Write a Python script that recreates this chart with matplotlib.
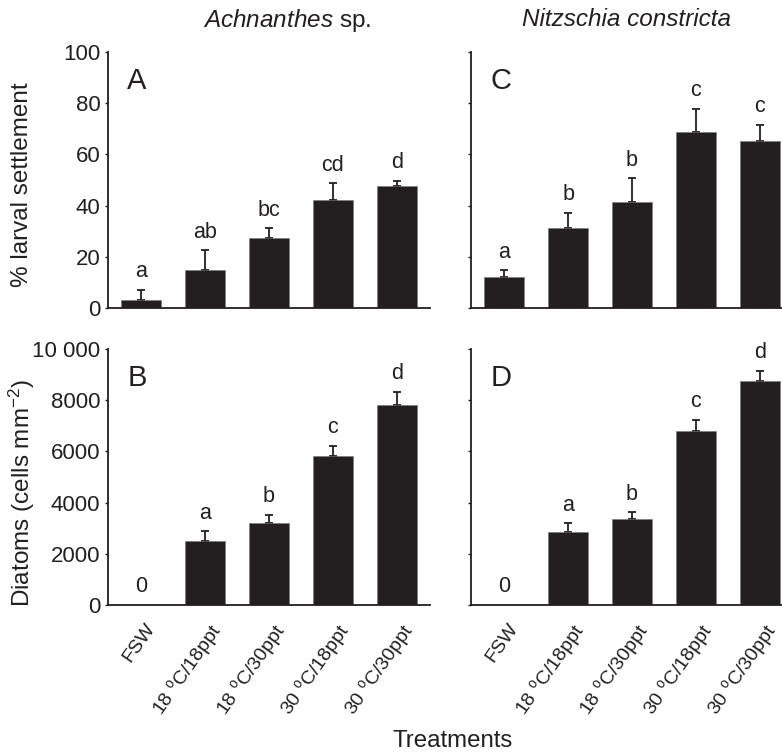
import numpy as np
import matplotlib
matplotlib.use("Agg")
import matplotlib.pyplot as plt
from matplotlib.transforms import ScaledTranslation

plt.rcParams['font.family'] = ['Liberation Sans', 'DejaVu Sans']
plt.rcParams['mathtext.fontset'] = 'custom'
plt.rcParams['mathtext.rm'] = 'Liberation Sans'
plt.rcParams['mathtext.it'] = 'Liberation Sans:italic'
plt.rcParams['mathtext.bf'] = 'Liberation Sans:bold'

INK = '#231f20'

# data
treatments = ['FSW', r'18 $^{\rm o}$C/18ppt', r'18 $^{\rm o}$C/30ppt',
              r'30 $^{\rm o}$C/18ppt', r'30 $^{\rm o}$C/30ppt']

settle_ach = [3.3, 15.0, 27.2, 42.2, 47.5]
settle_ach_se = [3.9, 7.6, 3.9, 6.6, 2.2]
settle_ach_sig = ['a', 'ab', 'bc', 'cd', 'd']

settle_nit = [12.2, 31.4, 41.4, 68.6, 65.3]
settle_nit_se = [2.5, 5.9, 9.3, 9.2, 6.3]
settle_nit_sig = ['a', 'b', 'b', 'c', 'c']

diat_ach = [0, 2500, 3190, 5810, 7800]
diat_ach_se = [0, 380, 340, 400, 520]
diat_ach_sig = ['0', 'a', 'b', 'c', 'd']

diat_nit = [0, 2870, 3350, 6800, 8750]
diat_nit_se = [0, 320, 270, 430, 400]
diat_nit_sig = ['0', 'a', 'b', 'c', 'd']

settle_ticks = [0, 20, 40, 60, 80, 100]
diat_ticks = [0, 2000, 4000, 6000, 8000, 10000]
diat_ticklabels = ['0', '2000', '4000', '6000', '8000', '10 000']

W, H = 782, 753
fig = plt.figure(figsize=(W / 100, H / 100), dpi=100)


def px_axes(left, bottom, width, height):
    return fig.add_axes([left / W, (H - bottom) / H, width / W, height / H])


axA = px_axes(108, 308, 322, 256)
axB = px_axes(108, 605, 322, 256)
axC = px_axes(471, 308, 322, 256)
axD = px_axes(471, 605, 322, 256)

panels = [
    (axA, settle_ach, settle_ach_se, settle_ach_sig, 'A', 100, settle_ticks, None),
    (axC, settle_nit, settle_nit_se, settle_nit_sig, 'C', 100, settle_ticks, None),
    (axB, diat_ach, diat_ach_se, diat_ach_sig, 'B', 10000, diat_ticks, diat_ticklabels),
    (axD, diat_nit, diat_nit_se, diat_nit_sig, 'D', 10000, diat_ticks, diat_ticklabels),
]

x = np.arange(len(treatments))

for ax, vals, se, sig, tag, ymax, ticks, ticklabels in panels:
    vals = np.array(vals, dtype=float)
    se = np.array(se, dtype=float)
    ax.bar(x, vals, width=0.63, color=INK, edgecolor='#777777',
           linewidth=0.4, zorder=2)
    keep = vals > 0
    ax.errorbar(x[keep], vals[keep], yerr=[np.zeros(keep.sum()), se[keep]],
                fmt='none', ecolor=INK, elinewidth=1.3, capsize=3.2,
                capthick=1.3, zorder=1)
    for xi, top, s in zip(x, vals + se, sig):
        ax.annotate(s, (xi, top), xytext=(0, 13), textcoords='offset points',
                    ha='center', va='center', fontsize=15.5, color=INK)
    ax.text(0.06, 0.885, tag, transform=ax.transAxes, ha='left', va='center',
            fontsize=21, color=INK)

    ax.set_xlim(-0.52, 4.52)
    ax.set_ylim(0, ymax)
    ax.set_yticks(ticks)
    if ticklabels is not None:
        ax.set_yticklabels(ticklabels)
    for side in ['top', 'right']:
        ax.spines[side].set_visible(False)
    for side in ['left', 'bottom']:
        ax.spines[side].set_linewidth(1.3)
        ax.spines[side].set_color(INK)
    ax.tick_params(axis='y', direction='out', length=2.5, width=1,
                   colors=INK, labelsize=16, pad=3)
    ax.tick_params(axis='x', length=0)
    ax.set_xticks(x)
    ax.set_xticklabels([])

for ax in [axC, axD]:
    ax.tick_params(axis='y', labelleft=False)

# rotated treatment labels on the bottom row
shift = ScaledTranslation(0.03, 0, fig.dpi_scale_trans)
for ax in [axB, axD]:
    ax.set_xticklabels(treatments, rotation=55, ha='right', va='top',
                       rotation_mode='anchor', fontsize=14, color=INK)
    ax.tick_params(axis='x', pad=11)
    for lab in ax.get_xticklabels():
        lab.set_transform(lab.get_transform() + shift)

fig.text(22 / W, 1 - 185 / H, '% larval settlement', rotation=90,
         ha='center', va='center', fontsize=17.5, color=INK)
fig.text(22 / W, 1 - 493 / H, r'Diatoms (cells mm$^{-2}$)', rotation=90,
         ha='center', va='center', fontsize=17.5, color=INK)

fig.text(287 / W, 1 - 20 / H, r'$\it{Achnanthes}$ sp.', ha='center',
         va='center', fontsize=17.5, color=INK)
fig.text(626 / W, 1 - 20 / H, 'Nitzschia constricta', style='italic',
         ha='center', va='center', fontsize=17.5, color=INK)
fig.text(453 / W, 1 - 741 / H, 'Treatments', ha='center', va='center',
         fontsize=17.3, color=INK)

fig.savefig('out.png', dpi=100)
